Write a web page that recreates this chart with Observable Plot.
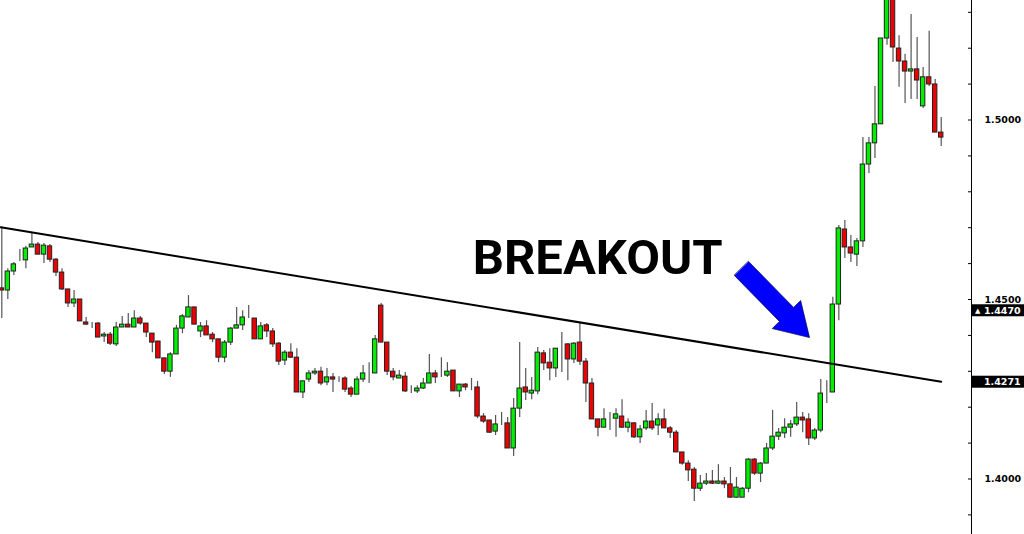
<!DOCTYPE html>
<html><head><meta charset="utf-8">
<script src="https://cdn.jsdelivr.net/npm/d3@7"></script>
<script src="https://cdn.jsdelivr.net/npm/@observablehq/plot@0.6"></script>
<style>html,body{margin:0;padding:0;background:#fff;} svg{display:block}</style>
</head><body><div id="chart"></div>
<script>
const open = [
1.4531,1.4525,1.4578,1.4609,1.4609,1.4645,1.4653,1.4625,1.4648,1.4611,
1.4575,1.4528,1.4489,1.4500,1.4436,1.4430,1.4433,1.4397,1.4402,1.4375,
1.4422,1.4430,1.4422,1.4447,1.4433,1.4405,1.4383,1.4336,1.4299,1.4347,
1.4419,1.4450,1.4478,1.4411,1.4425,1.4402,1.4389,1.4338,1.4380,1.4419,
1.4428,1.4447,1.4447,1.4389,1.4428,1.4411,1.4377,1.4330,1.4352,1.4338,
1.4241,1.4277,1.4294,1.4299,1.4269,1.4283,1.4277,1.4280,1.4252,1.4235,
1.4277,1.4294,1.4294,1.4483,1.4380,1.4299,1.4280,1.4285,1.4244,1.4244,
1.4252,1.4266,1.4294,1.4285,1.4288,1.4302,1.4244,1.4263,1.4255,1.4255,
1.4174,1.4163,1.4132,1.4152,1.4155,1.4085,1.4196,1.4255,1.4238,1.4244,
1.4350,1.4324,1.4308,1.4375,1.4375,1.4333,1.4380,1.4327,1.4266,1.4166,
1.4143,1.4166,1.4168,1.4174,1.4143,1.4155,1.4116,1.4141,1.4160,1.4149,
1.4166,1.4141,1.4129,1.4074,1.4043,1.4026,1.3973,1.3987,1.3993,1.3987,
1.3993,1.3985,1.3948,1.3948,1.3973,1.4054,1.4015,1.4043,1.4085,1.4118,
1.4127,1.4143,1.4152,1.4171,1.4166,1.4113,1.4135,1.4241,1.4241,1.4486,
1.4695,1.4645,1.4625,1.4662,1.4876,1.4935,1.4988,1.5227,1.5355,1.5199,
1.5163,1.5135,1.5141,1.5038,1.5119,1.5099,1.4965];
const high = [
1.4703,1.4586,1.4603,1.4639,1.4648,1.4684,1.4659,1.4656,1.4653,1.4614,
1.4586,1.4528,1.4525,1.4500,1.4450,1.4436,1.4436,1.4408,1.4408,1.4436,
1.4453,1.4461,1.4469,1.4453,1.4433,1.4405,1.4383,1.4336,1.4352,1.4428,
1.4458,1.4511,1.4478,1.4436,1.4441,1.4408,1.4389,1.4386,1.4422,1.4478,
1.4469,1.4483,1.4447,1.4436,1.4433,1.4419,1.4380,1.4358,1.4377,1.4363,
1.4272,1.4302,1.4308,1.4311,1.4308,1.4294,1.4285,1.4285,1.4258,1.4285,
1.4316,1.4324,1.4400,1.4489,1.4380,1.4308,1.4302,1.4297,1.4260,1.4260,
1.4280,1.4347,1.4302,1.4338,1.4324,1.4302,1.4263,1.4266,1.4280,1.4272,
1.4182,1.4163,1.4177,1.4185,1.4171,1.4224,1.4380,1.4308,1.4283,1.4366,
1.4358,1.4363,1.4363,1.4408,1.4377,1.4380,1.4433,1.4336,1.4280,1.4166,
1.4196,1.4185,1.4196,1.4221,1.4168,1.4157,1.4149,1.4191,1.4210,1.4182,
1.4194,1.4146,1.4135,1.4074,1.4051,1.4032,1.4010,1.4015,1.4024,1.4040,
1.4004,1.4032,1.4004,1.3976,1.4057,1.4057,1.4046,1.4099,1.4191,1.4141,
1.4168,1.4163,1.4213,1.4185,1.4182,1.4141,1.4277,1.4274,1.4506,1.4706,
1.4720,1.4678,1.4670,1.4951,1.4951,1.5093,1.5227,1.5375,1.5366,1.5235,
1.5183,1.5294,1.5230,1.5146,1.5247,1.5113,1.5007];
const low = [
1.4447,1.4500,1.4567,1.4606,1.4586,1.4645,1.4625,1.4600,1.4603,1.4564,
1.4525,1.4478,1.4478,1.4439,1.4428,1.4419,1.4394,1.4380,1.4372,1.4369,
1.4422,1.4422,1.4422,1.4428,1.4394,1.4352,1.4336,1.4291,1.4283,1.4347,
1.4405,1.4450,1.4430,1.4394,1.4400,1.4380,1.4324,1.4324,1.4372,1.4419,
1.4414,1.4447,1.4389,1.4389,1.4394,1.4366,1.4316,1.4316,1.4336,1.4241,
1.4224,1.4269,1.4288,1.4260,1.4260,1.4241,1.4269,1.4241,1.4227,1.4235,
1.4269,1.4266,1.4294,1.4380,1.4288,1.4274,1.4280,1.4241,1.4238,1.4238,
1.4249,1.4266,1.4266,1.4283,1.4283,1.4244,1.4227,1.4246,1.4246,1.4168,
1.4155,1.4127,1.4121,1.4149,1.4085,1.4063,1.4171,1.4219,1.4221,1.4235,
1.4302,1.4274,1.4283,1.4297,1.4274,1.4322,1.4316,1.4213,1.4166,1.4118,
1.4143,1.4135,1.4116,1.4141,1.4129,1.4113,1.4099,1.4135,1.4135,1.4121,
1.4141,1.4113,1.4074,1.4038,1.3993,1.3937,1.3965,1.3982,1.3985,1.3985,
1.3973,1.3946,1.3946,1.3948,1.3962,1.4010,1.3990,1.4043,1.4079,1.4107,
1.4113,1.4116,1.4146,1.4129,1.4093,1.4107,1.4129,1.4210,1.4241,1.4441,
1.4614,1.4603,1.4592,1.4645,1.4851,1.4893,1.4988,1.5208,1.5160,1.5091,
1.5046,1.5057,1.5057,1.5032,1.5093,1.4965,1.4926];
const close = [
1.4525,1.4578,1.4598,1.4609,1.4642,1.4653,1.4625,1.4650,1.4611,1.4575,
1.4528,1.4489,1.4500,1.4439,1.4430,1.4430,1.4394,1.4402,1.4377,1.4422,
1.4430,1.4422,1.4447,1.4433,1.4408,1.4380,1.4336,1.4299,1.4347,1.4419,
1.4453,1.4478,1.4430,1.4425,1.4400,1.4389,1.4338,1.4380,1.4419,1.4428,
1.4450,1.4447,1.4389,1.4425,1.4411,1.4375,1.4327,1.4352,1.4338,1.4241,
1.4272,1.4294,1.4299,1.4266,1.4283,1.4277,1.4277,1.4249,1.4235,1.4277,
1.4294,1.4294,1.4389,1.4380,1.4299,1.4283,1.4288,1.4244,1.4244,1.4252,
1.4266,1.4294,1.4283,1.4285,1.4299,1.4244,1.4263,1.4255,1.4255,1.4174,
1.4160,1.4129,1.4152,1.4152,1.4085,1.4196,1.4252,1.4241,1.4246,1.4352,
1.4322,1.4308,1.4363,1.4375,1.4333,1.4377,1.4327,1.4266,1.4166,1.4143,
1.4166,1.4166,1.4180,1.4143,1.4157,1.4116,1.4138,1.4160,1.4141,1.4166,
1.4141,1.4129,1.4074,1.4043,1.4024,1.3973,1.3987,1.3993,1.3987,1.3993,
1.3985,1.3948,1.3976,1.3973,1.4054,1.4015,1.4043,1.4085,1.4118,1.4129,
1.4143,1.4152,1.4171,1.4163,1.4113,1.4135,1.4238,1.4241,1.4486,1.4698,
1.4645,1.4628,1.4662,1.4876,1.4935,1.4988,1.5227,1.5361,1.5202,1.5163,
1.5135,1.5141,1.5110,1.5119,1.5099,1.4965,1.4951];

const trendIndex = [-0.2, 156];
const trendPrice = [1.4701, 1.4271];
const arrowIndex = [124.01, 131.48, 132.66, 134.13, 127.95, 129.13, 121.65];
const arrowPrice = [1.4606, 1.4478, 1.4497, 1.4394, 1.4419, 1.4439, 1.4567];
const majorTicks = [1.40, 1.45, 1.50];
const markerLevels = [1.4470, 1.4271];
const markerTexts = ["1.4470", "1.4271"];
const markerIcons = ["\u25B2", ""];
const annotation = [{text: "BREAKOUT", i: 78.2, price: 1.4572}];

const candles = open.map((o, i) => ({i, open: o, high: high[i], low: low[i], close: close[i]}));
const trend = trendIndex.map((x, k) => ({x, y: trendPrice[k]}));
const arrow = arrowIndex.map((x, k) => ({x, y: arrowPrice[k]}));

const GREEN = "#00ee00", RED = "#ee0000";
const chart = Plot.plot({
  width: 1024, height: 534,
  marginLeft: 0, marginRight: 53, marginTop: 0, marginBottom: 0,
  x: {domain: [-0.216, 161.03], axis: null},
  y: {domain: [1.38454, 1.53329], axis: null},
  style: {background: "#fff", overflow: "hidden"},
  marks: [
    Plot.ruleX(candles, {x: "i", y1: "low", y2: "high", stroke: "#555", strokeWidth: 1.2, clip: true}),
    Plot.rect(candles, {
      x1: d => d.i - 0.5, x2: d => d.i + 0.5, y1: "open", y2: "close",
      insetLeft: 0.8, insetRight: 0.8,
      fill: d => d.close > d.open ? GREEN : d.close < d.open ? RED : "#333",
      stroke: "#222", strokeWidth: 1, clip: true
    }),
    Plot.line(trend, {x: "x", y: "y", stroke: "#000", strokeWidth: 2}),
    Plot.line(arrow, {x: "x", y: "y", fill: "#0000ff", stroke: "#000050", strokeWidth: 0.7, curve: "linear-closed"}),
    Plot.text(annotation, {x: "i", y: "price", text: "text", textAnchor: "start", lineAnchor: "bottom",
      fontFamily: "Roboto", fontWeight: "bold", fontSize: 49, fill: "#000"}),
    Plot.frame({anchor: "right", stroke: "#000"}),
    Plot.axisY({anchor: "right", interval: 0.01, tickSize: 4, dx: -4, tickFormat: () => "", stroke: "#000"}),
    Plot.axisY(majorTicks, {anchor: "right", tickSize: 0, tickPadding: 13, dy: 0, tickFormat: d => d.toFixed(4),
      fontFamily: "DejaVu Sans", fontWeight: "bold", fontSize: 9.5, fill: "#000"})
  ]
});

// price marker boxes on the right axis, positioned via the chart's y scale
const ys = chart.scale("y");
const svg = d3.select(chart);
const right = 971;
const g = svg.append("g").attr("text-anchor", "start");
markerLevels.forEach((lv, k) => {
  const yy = ys.apply(lv);
  g.append("rect").attr("x", right).attr("y", yy - 5.5).attr("width", 1024 - right).attr("height", 12).attr("fill", "#000");
  if (markerIcons[k]) g.append("text").attr("x", right + 4).attr("y", yy + 0.5).attr("dy", "0.35em")
    .attr("text-anchor", "start").attr("fill", "#fff").attr("font-size", 7).attr("font-family", "DejaVu Sans").text(markerIcons[k]);
  g.append("text").attr("x", right + 13).attr("y", yy + 0.5).attr("dy", "0.36em")
    .attr("text-anchor", "start").attr("fill", "#fff").attr("font-size", 9.5).attr("font-weight", "bold")
    .attr("font-family", "DejaVu Sans").text(markerTexts[k]);
});
document.getElementById("chart").appendChild(chart);
</script>
</body></html>
